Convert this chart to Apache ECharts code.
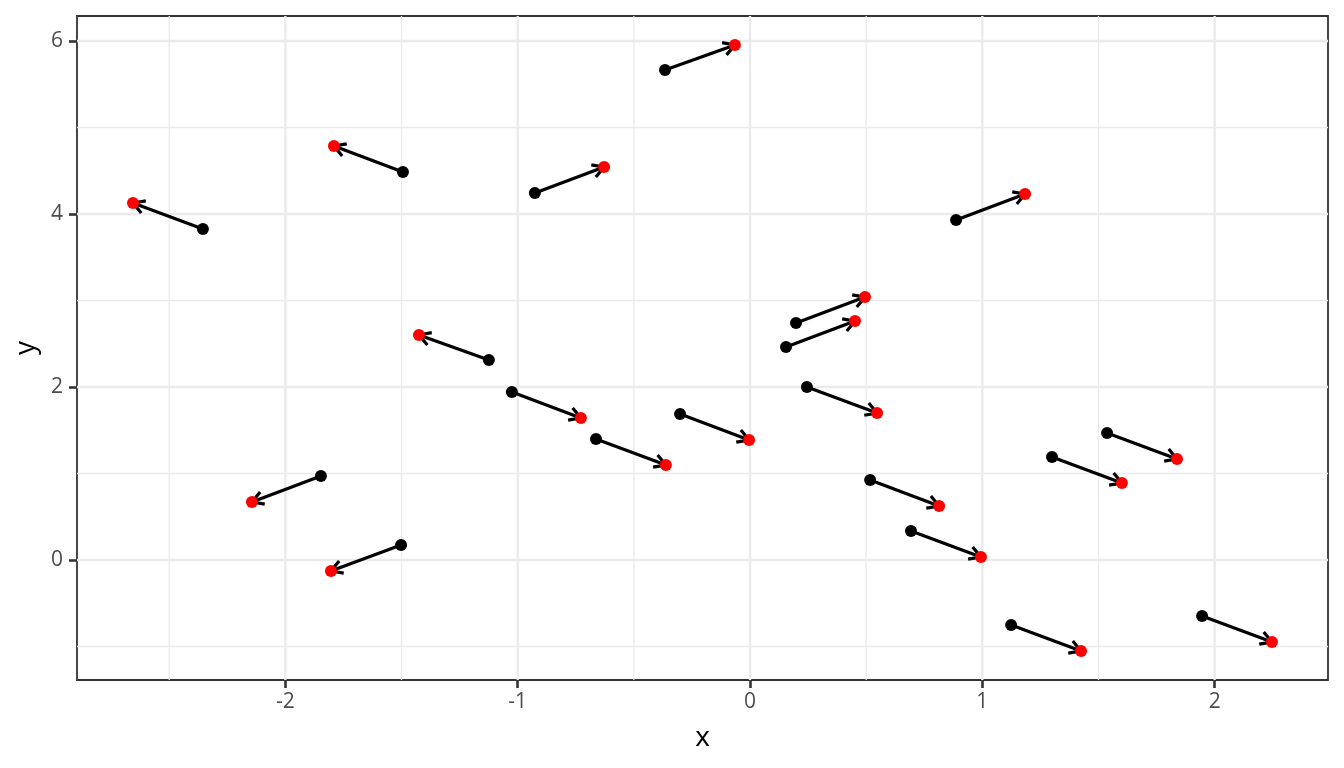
<!DOCTYPE html>
<html>
<head>
<meta charset="utf-8">
<script src="https://cdn.jsdelivr.net/npm/echarts@6/dist/echarts.min.js"></script>
<style>
  html, body { margin: 0; padding: 0; background: #fff; }
  #chart { width: 1344px; height: 768px; }
</style>
</head>
<body>
<div id="chart"></div>
<script>
// 起点（黑点）
const x0 = [-0.366, -1.494, -0.926, -2.355, 0.887, 0.198, 0.155, -1.124, -1.025, 0.245,
            -0.301, -0.663, 1.537, 1.300, -1.847, 0.517, -1.502, 0.693, 1.124, 1.946];
const y0 = [5.665, 4.486, 4.243, 3.827, 3.931, 2.740, 2.462, 2.312, 1.942, 2.000,
            1.688, 1.399, 1.468, 1.191, 0.971, 0.925, 0.173, 0.335, -0.751, -0.647];
// 终点（红点）
const x1 = [-0.065, -1.791, -0.628, -2.656, 1.184, 0.495, 0.452, -1.425, -0.728, 0.547,
            -0.004, -0.362, 1.838, 1.601, -2.144, 0.814, -1.804, 0.994, 1.425, 2.247];
const y1 = [5.954, 4.786, 4.543, 4.127, 4.231, 3.040, 2.763, 2.601, 1.642, 1.699,
            1.387, 1.098, 1.168, 0.890, 0.671, 0.624, -0.127, 0.035, -1.052, -0.948];

// 刻度与网格
const xTicks = [-2, -1, 0, 1, 2];
const yTicks = [0, 2, 4, 6];
const xMinor = [-2.5, -1.5, -0.5, 0.5, 1.5];
const yMinor = [-1, 1, 3, 5];

const segData = x0.map((v, i) => [v, y0[i], x1[i], y1[i]]);
const startPts = x0.map((v, i) => [v, y0[i]]);
const endPts = x1.map((v, i) => [v, y1[i]]);

const gridLine = '#ebebeb';
const font = '"Open Sans", "Noto Sans", sans-serif';

// 网格线数据：[值, 方向(0=竖线,1=横线), 是否主网格]
const gridData = []
  .concat(xMinor.map(v => [v, 0, 0]))
  .concat(yMinor.map(v => [v, 1, 0]))
  .concat(xTicks.map(v => [v, 0, 1]))
  .concat(yTicks.map(v => [v, 1, 1]));

function renderGrid(params, api) {
  const cs = params.coordSys;
  const v = api.value(0), dir = api.value(1), major = api.value(2);
  const style = { stroke: gridLine, lineWidth: major ? 2.4 : 1.3 };
  if (dir === 0) {
    const x = api.coord([v, 0])[0];
    return { type: 'line', shape: { x1: x, y1: cs.y, x2: x, y2: cs.y + cs.height }, style: style };
  }
  const y = api.coord([0, v])[1];
  return { type: 'line', shape: { x1: cs.x, y1: y, x2: cs.x + cs.width, y2: y }, style: style };
}

// 箭头线段（开口箭头）
function renderArrow(params, api) {
  const p0 = api.coord([api.value(0), api.value(1)]);
  const p1 = api.coord([api.value(2), api.value(3)]);
  const ang = Math.atan2(p1[1] - p0[1], p1[0] - p0[0]);
  const len = 13, spread = Math.PI / 6;
  const a1 = [p1[0] - len * Math.cos(ang - spread), p1[1] - len * Math.sin(ang - spread)];
  const a2 = [p1[0] - len * Math.cos(ang + spread), p1[1] - len * Math.sin(ang + spread)];
  const style = { stroke: '#000', lineWidth: 3.2, fill: null, lineCap: 'butt', lineJoin: 'miter' };
  return {
    type: 'group',
    children: [
      { type: 'line', shape: { x1: p0[0], y1: p0[1], x2: p1[0], y2: p1[1] }, style: style },
      { type: 'polyline', shape: { points: [a1, p1, a2] }, style: style }
    ]
  };
}

const axisCommon = {
  axisLine: { show: false, onZero: false },
  splitLine: { show: false },
  nameTextStyle: { color: '#000', fontSize: 28, fontFamily: font }
};

const option = {
  backgroundColor: '#fff',
  animation: false,
  grid: { left: 77, right: 16, top: 16, bottom: 88, show: true, borderColor: '#333', borderWidth: 1.8, backgroundColor: 'transparent' },
  xAxis: Object.assign({}, axisCommon, {
    type: 'value', min: -2.897, max: 2.488,
    name: 'x', nameLocation: 'middle', nameGap: 44,
    axisTick: { show: true, length: 8, customValues: xTicks, lineStyle: { color: '#333', width: 2.6 } },
    axisLabel: { customValues: xTicks, color: '#4d4d4d', fontSize: 21, fontFamily: font, margin: 12 }
  }),
  yAxis: Object.assign({}, axisCommon, {
    type: 'value', min: -1.387, max: 6.289,
    name: 'y', nameLocation: 'middle', nameGap: 36, nameRotate: 90,
    axisTick: { show: true, length: 8, customValues: yTicks, lineStyle: { color: '#333', width: 2.6 } },
    axisLabel: { customValues: yTicks, color: '#4d4d4d', fontSize: 21, fontFamily: font, margin: 14 }
  }),
  series: [
    {
      type: 'custom',
      renderItem: renderGrid,
      data: gridData,
      clip: true,
      z: 1,
      silent: true
    },
    {
      type: 'custom',
      renderItem: renderArrow,
      data: segData,
      z: 2,
      silent: true
    },
    {
      type: 'scatter',
      data: startPts,
      symbolSize: 12,
      itemStyle: { color: '#000', opacity: 1 },
      z: 3
    },
    {
      type: 'scatter',
      data: endPts,
      symbolSize: 12,
      itemStyle: { color: '#ff0000', opacity: 1 },
      z: 4
    }
  ]
};

const chart = echarts.init(document.getElementById('chart'));
chart.setOption(option);
</script>
</body>
</html>
